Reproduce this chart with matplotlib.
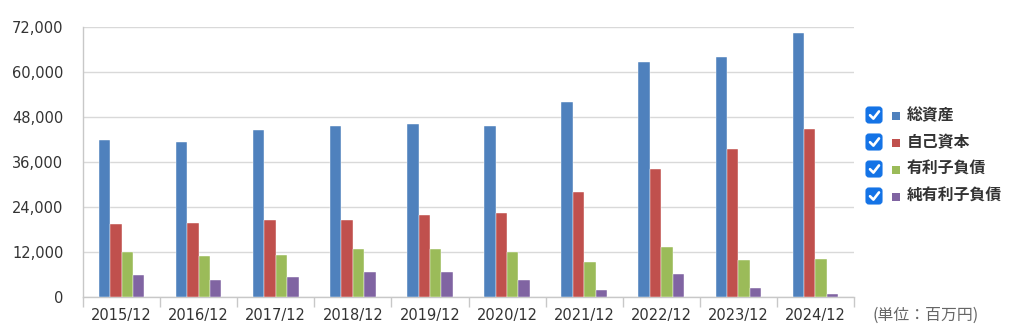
import matplotlib
matplotlib.use('Agg')
import numpy as np
import matplotlib.pyplot as plt
from matplotlib.patches import FancyBboxPatch, Rectangle
from matplotlib.ticker import FuncFormatter

plt.rcParams['font.family'] = ['DejaVu Sans', 'Noto Sans CJK JP']

# === Datos (百万円) ===
periods = ['2015/12', '2016/12', '2017/12', '2018/12', '2019/12',
           '2020/12', '2021/12', '2022/12', '2023/12', '2024/12']
total_assets = [41900, 41250, 44450, 45500, 46200, 45500, 51900, 62700, 64000, 70500]
equity = [19400, 19800, 20500, 20500, 21950, 22300, 28000, 34050, 39400, 44800]
interest_debt = [11900, 10850, 11200, 12700, 12700, 11900, 9400, 13350, 9800, 10150]
net_interest_debt = [5850, 4450, 5250, 6550, 6550, 4450, 1950, 6200, 2300, 900]

series_names = ['総資産', '自己資本', '有利子負債', '純有利子負債']
series_values = [total_assets, equity, interest_debt, net_interest_debt]
colors = ['#4F81BD', '#C0504D', '#9BBB59', '#8064A2']
y_ticks = [0, 12000, 24000, 36000, 48000, 60000, 72000]

W, H = 1024, 330
fig = plt.figure(figsize=(W / 100, H / 100), dpi=100)
ax = fig.add_axes([83 / W, 33 / H, (854 - 83) / W, (297 - 27) / H])

x = np.arange(len(periods))
bw = 0.148
for i, (vals, c) in enumerate(zip(series_values, colors)):
    ax.bar(x + (i - 1.5) * bw, vals, width=bw, color=c, zorder=3,
           edgecolor='white', linewidth=0.3)

ax.set_xlim(-0.5, len(periods) - 0.5)
ax.set_ylim(0, 72000)
ax.set_yticks(y_ticks)
ax.set_yticks([0], minor=True)
ax.yaxis.set_major_formatter(FuncFormatter(lambda v, p: f'{int(v):,}'))
ax.grid(axis='y', which='major', color='#d9d9d9', linewidth=1.0, zorder=0)

ax.set_xticks(x)
ax.set_xticklabels(periods)
ax.set_xticks(np.arange(-0.5, len(periods)), minor=True)
ax.tick_params(axis='x', which='major', length=0, pad=8, labelsize=10.5, labelcolor='#333333')
ax.tick_params(axis='x', which='minor', length=7, color='#c8c8c8', width=1)
ax.tick_params(axis='y', which='major', length=0, pad=14, labelsize=10.5, labelcolor='#333333')
ax.tick_params(axis='y', which='minor', length=5, color='#c8c8c8', width=1)

for s in ['top', 'right']:
    ax.spines[s].set_visible(False)
for s in ['left', 'bottom']:
    ax.spines[s].set_color('#c8c8c8')
    ax.spines[s].set_linewidth(1.0)

# === Leyenda con casillas ===
ov = fig.add_axes([0, 0, 1, 1], zorder=5)
ov.set_xlim(0, W)
ov.set_ylim(H, 0)
ov.axis('off')
ov.patch.set_alpha(0)

row_y = [115, 142, 169, 196]
for yy, name, c in zip(row_y, series_names, colors):
    ov.add_patch(FancyBboxPatch((866, yy - 8), 16, 16,
                                boxstyle='round,pad=0,rounding_size=3',
                                facecolor='#1473e6', edgecolor='#1473e6', linewidth=0.8))
    ov.plot([870, 873.4, 879], [yy + 0.2, yy + 3.6, yy - 3.6],
            color='white', linewidth=1.9, solid_capstyle='round', solid_joinstyle='round')
    ov.add_patch(Rectangle((891.5, yy - 3.5), 8.5, 8.5, facecolor=c, edgecolor='none'))
    ov.text(907, yy, name, fontsize=11.4, fontweight='bold', color='#333333',
            va='center', ha='left', family=['Noto Sans CJK JP', 'DejaVu Sans'])

ov.text(873, 315, '(単位：百万円)', fontsize=11.4, color='#666666', va='center', ha='left',
        family=['Noto Sans CJK JP', 'DejaVu Sans'])

fig.savefig('out.png', dpi=100)
